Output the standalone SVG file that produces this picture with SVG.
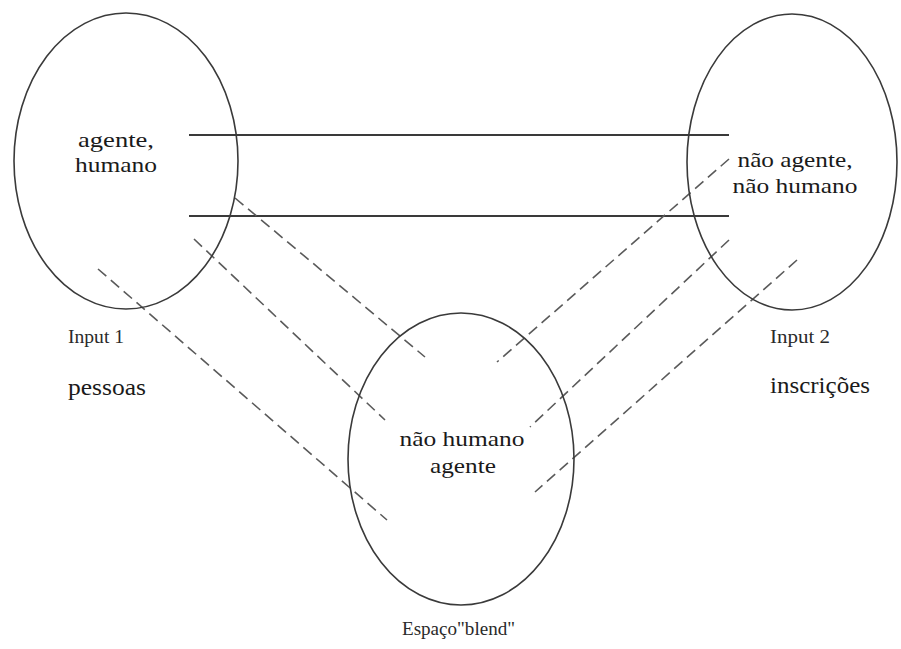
<svg xmlns="http://www.w3.org/2000/svg" width="901" height="649" viewBox="0 0 901 649">
  <style>
    .space { fill: none; stroke: #3a3a3a; stroke-width: 1.6; }
    .solid { stroke: #3a3a3a; stroke-width: 1.8; fill: none; }
    .dash { stroke: #5a5a5a; stroke-width: 1.6; stroke-dasharray: 11 6; fill: none; }
    text { font-family: "Liberation Serif", "Times New Roman", serif; fill: #1a1a1a; }
    .inner { font-size: 22px; text-anchor: middle; }
    .label { font-size: 19px; fill: #2a2a2a; }
    .name { font-size: 23px; }
  </style>
  <rect width="901" height="649" fill="#ffffff"/>

  <!-- mapping lines between the three spaces -->
  <g id="connectors">
    <line class="solid" x1="189" y1="135" x2="729" y2="135"/>
    <line class="solid" x1="189" y1="216" x2="729" y2="216"/>
    <line class="dash" x1="235" y1="198" x2="425" y2="357"/>
    <line class="dash" x1="194" y1="239" x2="385" y2="420"/>
    <line class="dash" x1="98" y1="269" x2="387" y2="520"/>
    <line class="dash" x1="729" y1="159" x2="497" y2="362"/>
    <line class="dash" x1="729" y1="240" x2="530" y2="427"/>
    <line class="dash" x1="797" y1="260" x2="535" y2="492"/>
  </g>

  <!-- input space 1 -->
  <g id="input1">
    <ellipse class="space" cx="126" cy="161" rx="112" ry="148"/>
    <text class="inner" x="116" y="147" textLength="76" lengthAdjust="spacingAndGlyphs">agente,</text>
    <text class="inner" x="116" y="172" textLength="82" lengthAdjust="spacingAndGlyphs">humano</text>
    <text class="label" x="68" y="343" textLength="56" lengthAdjust="spacingAndGlyphs">Input 1</text>
    <text class="name" x="68" y="395" textLength="78" lengthAdjust="spacingAndGlyphs">pessoas</text>
  </g>

  <!-- input space 2 -->
  <g id="input2">
    <ellipse class="space" cx="792" cy="162" rx="105" ry="148"/>
    <text class="inner" x="795" y="167" textLength="115" lengthAdjust="spacingAndGlyphs">não agente,</text>
    <text class="inner" x="795" y="193" textLength="125" lengthAdjust="spacingAndGlyphs">não humano</text>
    <text class="label" x="770" y="343" textLength="60" lengthAdjust="spacingAndGlyphs">Input 2</text>
    <text class="name" x="770" y="393" textLength="100" lengthAdjust="spacingAndGlyphs">inscrições</text>
  </g>

  <!-- blended space -->
  <g id="blend">
    <ellipse class="space" cx="461" cy="459" rx="113" ry="146"/>
    <text class="inner" x="462" y="446" textLength="125" lengthAdjust="spacingAndGlyphs">não humano</text>
    <text class="inner" x="463" y="473" textLength="66" lengthAdjust="spacingAndGlyphs">agente</text>
    <text class="label" x="402" y="635" textLength="113" lengthAdjust="spacingAndGlyphs">Espaço"blend"</text>
  </g>
</svg>
